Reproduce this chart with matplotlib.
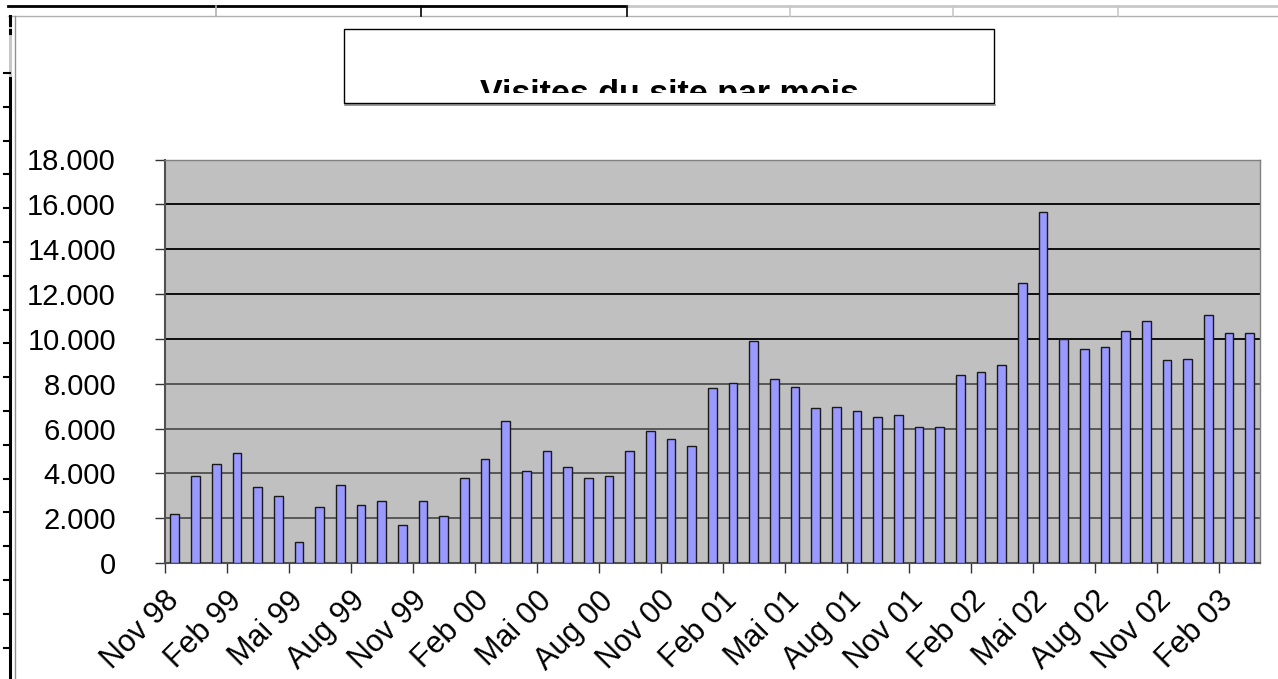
import numpy as np
import matplotlib
matplotlib.use("Agg")
import matplotlib.pyplot as plt
from matplotlib.patches import Rectangle
from matplotlib.lines import Line2D
from matplotlib.transforms import Bbox, TransformedBbox

### data: monthly visits, Nov 98 .. Mar 03
visits = [2200, 3900, 4400, 4900, 3400, 3000, 950, 2500, 3500, 2600,
          2750, 1700, 2750, 2100, 3800, 4650, 6350, 4100, 5000, 4300,
          3800, 3900, 5000, 5900, 5550, 5200, 7800, 8050, 9900, 8200,
          7850, 6900, 6950, 6800, 6500, 6600, 6050, 6050, 8400, 8500,
          8850, 12500, 15650, 10000, 9550, 9650, 10350, 10800, 9050, 9100,
          11050, 10250, 10250]
tick_labels = ["Nov 98", "Feb 99", "Mai 99", "Aug 99", "Nov 99", "Feb 00",
               "Mai 00", "Aug 00", "Nov 00", "Feb 01", "Mai 01", "Aug 01",
               "Nov 01", "Feb 02", "Mai 02", "Aug 02", "Nov 02", "Feb 03"]
title = "Visites du site par mois"

W, H = 1278, 679
plt.rcParams['font.family'] = ['Liberation Sans', 'DejaVu Sans']

fig = plt.figure(figsize=(W / 100, H / 100), dpi=100)
fig.patch.set_facecolor("white")

def fx(x):
    return x / W

def fy(y):
    return 1 - y / H

# plot area in pixels
left, right, top, bottom = 164.5, 1260, 159.5, 563
ax = fig.add_axes([fx(left), fy(bottom), (right - left) / W, (bottom - top) / H])
ax.set_facecolor("#C0C0C0")

x = np.arange(len(visits))
ax.bar(x, visits, width=0.42, color="#9999FF", edgecolor="#1a1a1a", linewidth=1, zorder=3)

ax.set_xlim(-0.5, len(visits) - 0.5)
ax.set_ylim(0, 18000)
ax.set_yticks(np.arange(0, 18001, 2000))
ax.set_yticklabels([f"{v:,.0f}".replace(",", ".") for v in np.arange(0, 18001, 2000)])

# labels every third month, tick marks on category boundaries
ax.set_xticks(x[::3])
ax.set_xticklabels(tick_labels)
ax.set_xticks(np.arange(-0.5, len(visits), 3), minor=True)
ax.tick_params(axis="x", which="major", length=0, pad=24, labelsize=22)
ax.tick_params(axis="x", which="minor", length=7, width=1, color="#333333")
ax.tick_params(axis="y", length=7, width=1, color="#333333", pad=28, labelsize=21)
for lab in ax.get_xticklabels():
    lab.set_rotation(45)
    lab.set_rotation_mode("anchor")
    lab.set_ha("right")
    lab.set_va("center")

ax.yaxis.grid(True, linewidth=1.3, zorder=1)
ax.set_axisbelow(True)
for val, gl in zip(np.arange(0, 18001, 2000), ax.get_ygridlines()):
    gl.set_color("#000000" if val >= 10000 else "#505050")

for side in ["top", "right"]:
    ax.spines[side].set_color("#808080")
    ax.spines[side].set_linewidth(1)
for side in ["left", "bottom"]:
    ax.spines[side].set_color("#505050")
    ax.spines[side].set_linewidth(1.5)

# title box, text cut off at its lower part
fig.patches.append(Rectangle((fx(344), fy(103)), fx(650), 74 / H,
                             transform=fig.transFigure, facecolor="white",
                             edgecolor="black", linewidth=1, zorder=5))
fig.lines.append(Line2D([fx(345), fx(995)], [fy(104.5), fy(104.5)],
                        transform=fig.transFigure, color="#888888", linewidth=1.2, zorder=5))
t = fig.text(fx(669), fy(103), title, ha="center", va="baseline",
             fontsize=24.5, fontweight="bold", zorder=6)
t.set_clip_box(TransformedBbox(Bbox([[fx(345), fy(93)], [fx(993), fy(30)]]), fig.transFigure))
t.set_clip_on(True)

# spreadsheet cell borders around the chart
def hline(x0, x1, y, color, lw):
    fig.lines.append(Line2D([fx(x0), fx(x1)], [fy(y), fy(y)], transform=fig.transFigure,
                            color=color, linewidth=lw))

def vline(x, y0, y1, color, lw):
    fig.lines.append(Line2D([fx(x), fx(x)], [fy(y0), fy(y1)], transform=fig.transFigure,
                            color=color, linewidth=lw))

hline(8, 627, 6, "black", 2)
hline(627, W, 6, "#C8C8C8", 2)
hline(8, W, 16, "#B0B0B0", 1)
for xc, col in [(216, "#B0B0B0"), (421, "black"), (627, "black"),
                (790, "#C8C8C8"), (953, "#C8C8C8"), (1118, "#C8C8C8")]:
    vline(xc, 6, 16, col, 1.2)
vline(9.5, 75, H, "black", 2.2)
vline(9.5, 16, 75, "#C8C8C8", 2.2)
vline(14.5, 16, H, "#909090", 1)
for yy in [16, 22, 30]:
    vline(9.5, yy, yy + 3, "black", 2.2)
for yy in np.arange(73, H, 33.8):
    hline(4, 10, yy, "black", 1.5)

fig.savefig("out.png", dpi=100)
